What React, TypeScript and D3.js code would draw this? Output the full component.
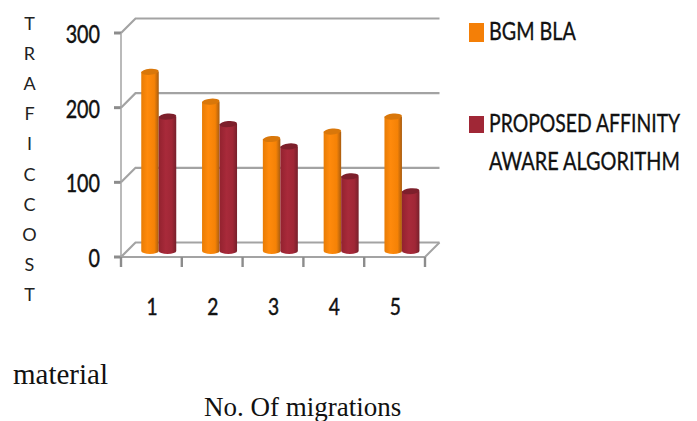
import React from "react";
import * as d3 from "d3";

const categories = ["1", "2", "3", "4", "5"];
const bgmBla = [240, 200, 150, 160, 180];
const proposed = [180, 170, 140, 100, 80];
const yTicks = [0, 100, 200, 300];
const yTitle = ["T", "R", "A", "F", "I", "C", "C", "O", "S", "T"];
const legendNames = ["BGM BLA", "PROPOSED AFFINITY", "AWARE ALGORITHM"];

const W = 697, H = 421;
const sans = "Lato, 'Open Sans', sans-serif";
const serif = "'Liberation Serif', serif";
const GREY = "#a3a3a3";
const depth = 14.5;
const frontBase = 257;

const x = d3.scaleBand<string>().domain(categories).range([121, 425]);
const y = d3.scaleLinear().domain([0, 300]).range([frontBase, 33]);
const barBase = 252;
const topBase = 251;
const barW = 17.5;
const rx = barW / 2, ry = 3;

function Cyl({ cx, v, grad, top }: { cx: number; v: number; grad: string; top: string }) {
  const topY = topBase - (y(0) - y(v));
  const d = `M${cx - rx},${topY} V${barBase - 1} A${rx},${ry} 0 0 0 ${cx + rx},${barBase - 1} V${topY} Z`;
  return (
    <g>
      <path d={d} fill={`url(#${grad})`} />
      <ellipse cx={cx} cy={topY} rx={rx} ry={ry} fill={top} transform={`rotate(-5 ${cx} ${topY})`} />
    </g>
  );
}

function Label({ px, py, sx, size, text, anchor = "start", family = sans, heavy = 0.35 }: { px: number; py: number; sx: number; size: number; text: string; anchor?: string; family?: string; heavy?: number }) {
  return (
    <text transform={`translate(${px},${py}) scale(${sx},1)`} textAnchor={anchor} fontFamily={family} fontSize={size} fill="#111" stroke="#111" strokeWidth={heavy}>{text}</text>
  );
}

export default function App() {
  return (
    <svg width={W} height={H} viewBox={`0 0 ${W} ${H}`} style={{ position: "absolute", left: 0, top: 0, display: "block", background: "#fff" }}>
      <defs>
        <linearGradient id="org" x1="0" x2="1" y1="0" y2="0">
          <stop offset="0" stopColor="#e87c05" />
          <stop offset="0.35" stopColor="#ff8a0c" />
          <stop offset="0.75" stopColor="#f58206" />
          <stop offset="1" stopColor="#a85c10" />
        </linearGradient>
        <linearGradient id="red" x1="0" x2="1" y1="0" y2="0">
          <stop offset="0" stopColor="#93222f" />
          <stop offset="0.4" stopColor="#a82a3a" />
          <stop offset="0.75" stopColor="#a02736" />
          <stop offset="1" stopColor="#76202b" />
        </linearGradient>
      </defs>

      {yTicks.map((t) => (
        <g key={t} stroke={GREY} fill="none">
          <path d={`M${x.range()[0]},${y(t)} L${x.range()[0] + depth},${y(t) - depth} H${x.range()[1] + depth}`} strokeWidth={2.2} />
          <path d={`M${x.range()[0] - 7},${y(t)} H${x.range()[0]}`} strokeWidth={3} stroke="#8c8c8c" />
        </g>
      ))}
      <path d={`M${x.range()[0]},${y(0)} V${y(300)}`} stroke={GREY} strokeWidth={1.5} fill="none" />
      <path d={`M${x.range()[0]},${y(0)} H${x.range()[1]} L${x.range()[1] + depth},${y(0) - depth}`} stroke={GREY} strokeWidth={2} fill="none" />
      {[...categories.map((c) => x(c)!), x.range()[1]].map((px, i) => (
        <path key={i} d={`M${px},${y(0)} V${y(0) + 10}`} stroke="#8c8c8c" strokeWidth={2.4} />
      ))}

      {categories.map((c, i) => {
        const c0 = x(c)! + 29;
        return (
          <g key={c}>
            <Cyl cx={c0} v={bgmBla[i]} grad="org" top="#d9770a" />
            <Cyl cx={c0 + barW} v={proposed[i]} grad="red" top="#7d1f2b" />
          </g>
        );
      })}

      {yTicks.map((t) => (
        <Label key={t} px={100} py={y(t) + 10} sx={0.79} size={25} text={String(t)} anchor="end" heavy={0.45} />
      ))}

      {categories.map((c) => (
        <Label key={c} px={x(c)! + 31} py={315} sx={0.8} size={24} text={c} anchor="middle" heavy={0.45} />
      ))}

      {yTitle.map((l, i) => (
        <text key={i} x={29.5} y={30 + i * 30.1} textAnchor="middle" fontFamily={sans} fontSize={18} fill="#222">{l}</text>
      ))}

      <rect x={469} y={23} width={15} height={19} fill="#f47f07" />
      <rect x={469} y={116} width={15} height={17} fill="#a02736" />
      <Label px={489} py={40} sx={0.79} size={25} text={legendNames[0]} />
      <Label px={489} py={132} sx={0.775} size={25} text={legendNames[1]} />
      <Label px={489} py={170} sx={0.795} size={25} text={legendNames[2]} />

      <Label px={13} py={384} sx={1} size={29} text="material" family={serif} heavy={0} />
      <Label px={204} py={416} sx={1} size={27} text="No. Of migrations" family={serif} heavy={0} />
    </svg>
  );
}
